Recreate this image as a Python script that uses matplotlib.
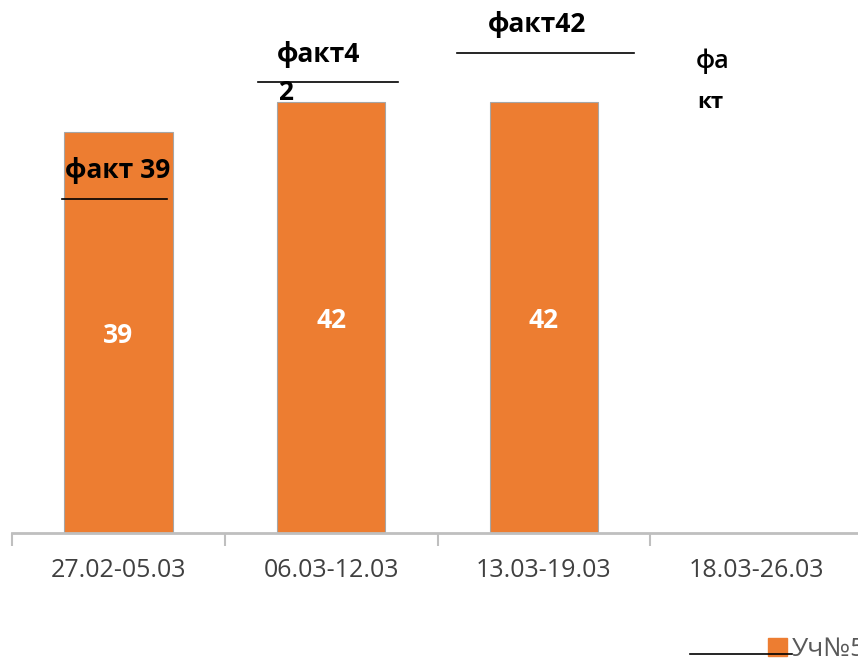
import matplotlib.pyplot as plt
from matplotlib.lines import Line2D
from matplotlib.patches import Rectangle

# données du graphique
periodes = ["27.02-05.03", "06.03-12.03", "13.03-19.03", "18.03-26.03"]
fait = [39, 42, 42]  # pas de valeur pour la dernière semaine
serie = "Уч№5"

orange = "#ED7D31"
W, H = 858, 660

plt.rcParams['font.family'] = ['Open Sans', 'DejaVu Sans']

fig = plt.figure(figsize=(W / 100, H / 100), dpi=100)

# axes : base à y=533 px, de x=12 à x=863 px
ax = fig.add_axes([12 / W, (H - 533) / H, 851 / W, 533 / H])
ax.bar(range(len(fait)), fait, width=0.51, color=orange, edgecolor="#a6a6a6", linewidth=0.8, zorder=2)
ax.set_xlim(-0.5, len(periodes) - 0.5)
ax.set_ylim(0, 51.9)

# valeurs dans les barres
for i, v in enumerate(fait):
    ax.text(i, v / 2, str(v), ha="center", va="center_baseline", color="white", fontsize=19, fontweight="bold")

for s in ["top", "left", "right"]:
    ax.spines[s].set_visible(False)
ax.spines["bottom"].set_color("#bfbfbf")
ax.spines["bottom"].set_linewidth(2)
ax.set_yticks([])
ax.set_xticks(range(len(periodes)))
ax.set_xticklabels(periodes, fontsize=18, color="#404040")
ax.tick_params(axis="x", which="major", length=0, pad=18)
ax.set_xticks([i - 0.5 for i in range(len(periodes) + 1)], minor=True)
ax.tick_params(axis="x", which="minor", length=9, width=1.5, color="#bfbfbf")


def px(x, y):
    return x / W, 1 - y / H


def trait(x0, x1, y):
    fig.add_artist(Line2D([x0 / W, x1 / W], [1 - y / H, 1 - y / H], color="black", linewidth=1.2))


# annotations "факт"
fig.text(*px(65, 171), "факт 39", fontsize=19, fontweight="bold", va="center")
trait(62, 167, 199)
fig.text(*px(277, 55), "факт4", fontsize=19, fontweight="bold", va="center")
trait(258, 398, 82)
fig.text(*px(278, 93), "2", fontsize=19, fontweight="bold", va="center")
fig.text(*px(488, 24), "факт42", fontsize=19, fontweight="bold", va="center")
trait(457, 634, 53)
fig.text(*px(696, 61), "фа", fontsize=18, fontweight="semibold", va="center")
fig.text(*px(697, 102), "кт", fontsize=16, fontweight="bold", va="center")

# légende (coupée à droite, comme sur l'original)
trait(690, 792, 654)
fig.add_artist(Rectangle(px(768, 656), 19 / W, 18 / H, color=orange, transform=fig.transFigure))
fig.text(*px(792, 649), serie, fontsize=19, color="#595959", va="center")

fig.savefig("out.png", dpi=100)
